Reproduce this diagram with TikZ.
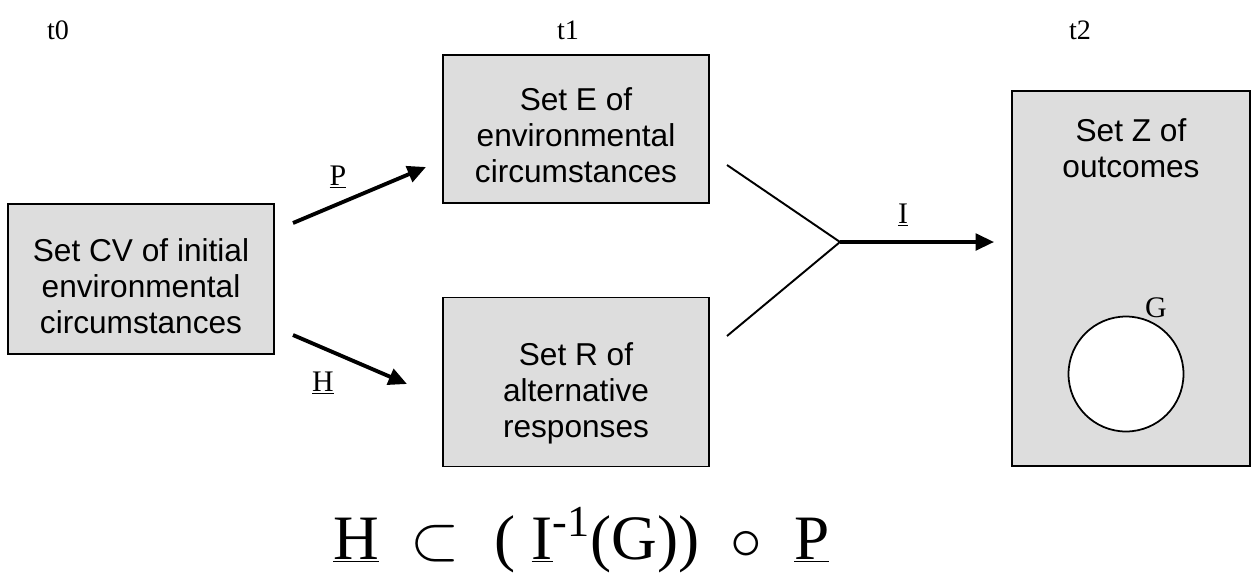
\RequirePackage{fix-cm}
\documentclass[tikz,border=0pt]{standalone}
\usepackage{fontspec}
\setmainfont{Liberation Serif}
\newfontfamily\arial{Liberation Sans}
\usepackage{tikz}
\usetikzlibrary{arrows.meta,positioning}
\definecolor{setgray}{HTML}{DDDDDD}
\newcommand{\ul}[1]{\underline{#1}}

\begin{document}
\begin{tikzpicture}[x=0.02cm, y=-0.02cm, >={Triangle[length=10.5pt,width=9.5pt]},
  setbox/.style={draw,line width=1pt,fill=setgray,inner sep=0pt},
  settext/.style={align=center,inner sep=0pt,font=\arial\fontsize{18}{20.5}\selectfont},
  tlabel/.style={font=\fontsize{16}{18}\selectfont},
  maplabel/.style={font=\fontsize{17}{20}\selectfont},
  maparrow/.style={->,line width=2.2pt},
  joinline/.style={line width=1.1pt}]
\useasboundingbox (0,0) rectangle (1256,572);
% time steps
\node[tlabel] (t0) at (58,30) {t0};
\node[tlabel] (t1) at (568,30) {t1};
\node[tlabel] (t2) at (1080,30) {t2};
% sets
\node[setbox,minimum width=5.32cm,minimum height=3cm] (cv) at (141,279) {};
\node[setbox,minimum width=5.32cm,minimum height=2.96cm] (setE) at (576,129) {};
\node[setbox,minimum width=5.32cm,minimum height=3.38cm] (setR) at (576,382) {};
\node[setbox,minimum width=4.76cm,minimum height=7.5cm] (setZ) at (1131,278.5) {};
\node[settext] (cvText) at (141,286) {Set CV of initial\\environmental\\circumstances};
\node[settext] (eText) at (576,135) {Set E of\\environmental\\circumstances};
\node[settext] (rText) at (576,393) {Set R of\\alternative\\responses};
\node[settext] (zText) at (1131,148) {Set Z of\\outcomes};
\node[draw,line width=1pt,fill=white,circle,minimum size=2.3cm,inner sep=0pt] (goal) at (1126,374) {};
\node[maplabel] (gLbl) at (1156,308) {G};
% maps
\coordinate (pStart) at (293,223); \coordinate (pEnd) at (426,167);
\coordinate (hStart) at (293,335); \coordinate (hEnd) at (407,384);
\coordinate (eTail) at (727,165); \coordinate (rTail) at (727,336);
\coordinate (join) at (840,242); \coordinate (iEnd) at (994,242);
\draw[maparrow] (pStart) -- (pEnd);
\draw[maparrow] (hStart) -- (hEnd);
\draw[joinline] (eTail) -- (join) -- (rTail);
\draw[->,line width=1.9pt] (join) -- (iEnd);
\node[maplabel] (pLbl) at (338,177) {\ul{P}};
\node[maplabel] (hLbl) at (323,383) {\ul{H}};
\node[maplabel] (iLbl) at (903,215) {\ul{I}};
% relation
\node[anchor=base west,inner sep=0pt,font=\fontsize{36}{40}\selectfont] (rel) at (333,559)
  {\ul{H}\hspace{0.5em}$\subset$\hspace{0.55em}(\hspace{0.25em}\ul{I}\textsuperscript{-1}(G))\hspace{0.5em}$\circ$\hspace{0.5em}\ul{P}};
\end{tikzpicture}
\end{document}
